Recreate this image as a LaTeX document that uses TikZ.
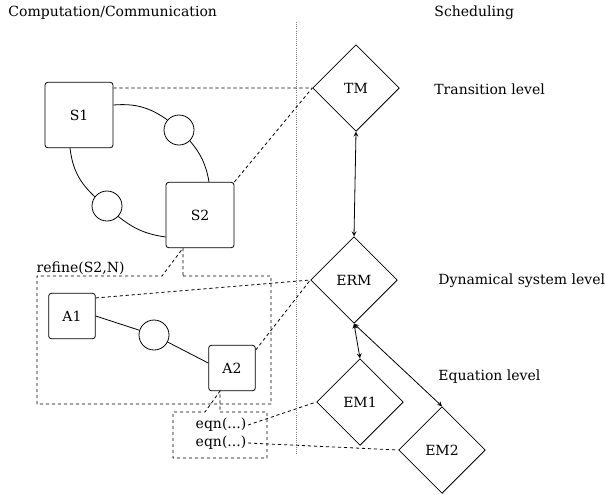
\documentclass[tikz,border=0pt]{standalone}
\usepackage{fontspec}
\setmainfont{DejaVu Serif}
\usetikzlibrary{shapes.geometric}

\begin{document}
\begin{tikzpicture}[x=0.75pt,y=-0.75pt,line width=0.6pt,>=stealth,
	font=\fontsize{10.5}{12.6}\selectfont,
	proc/.style={draw,rounded corners=2pt,minimum width=51pt,minimum height=49pt},
	act/.style={draw,rounded corners=2pt,minimum width=35pt,minimum height=34pt},
	chan/.style={draw,circle,minimum size=22.5pt,inner sep=0pt},
	sched/.style={draw,diamond,minimum width=65pt,minimum height=65pt,inner sep=0pt},
	link/.style={dash pattern=on 2.4pt off 2.1pt,line width=0.6pt},
	lbl/.style={anchor=west,inner sep=0pt}]

	\useasboundingbox (0,0) rectangle (605,494);

	\node[lbl] (comp) at (8,13) {Computation/Communication};
	\node[lbl] (schedt) at (434,13) {Scheduling};
	\coordinate (divtop) at (296,22);
	\coordinate (divbot) at (296,455);
	\draw[densely dotted,gray] (divtop) -- (divbot);

	\node[proc] (S1) at (79,115) {S1};
	\node[proc] (S2) at (200,215) {S2};
	\node[chan] (c1) at (179,130) {};
	\node[chan] (c2) at (107,206) {};

	\draw ([yshift=7.5pt]S1.east) to[bend left=20] (c1);
	\draw (c1) to[bend left=15] ([xshift=6.75pt]S2.north);
	\draw ([xshift=-6.75pt]S1.south) to[bend right=20] (c2);
	\draw (c2) to[bend right=15] ([yshift=-16.5pt]S2.west);

	\node[sched] (TM) at (356,88) {TM};
	\node[sched] (ERM) at (354,280) {ERM};
	\node[sched] (EM1) at (360,402) {EM1};
	\node[sched] (EM2) at (442,450) {EM2};

	\draw[<->] (TM.south) -- (ERM.north);
	\draw[<->] (ERM.south) -- (EM1.north);
	\draw[<->] (ERM.south) -- (EM2.north);

	\node[lbl] (trans) at (434,89) {Transition level};
	\node[lbl] (dyn) at (438,281) {Dynamical system level};
	\node[lbl] (eql) at (438,377) {Equation level};

	\draw[link] ([yshift=-4.5pt]S1.north east) -- (TM.west);
	\draw[link] (S2.north east) -- (TM.west);

	\node[anchor=south west,inner sep=1pt] (reft) at (35,276) {refine(S2,N)};
	\draw[link] (183,276) -- (271,276) -- (271,404) -- (37,404) -- (37,276) -- (162,276)
		-- ([xshift=-12.75pt]S2.south) -- cycle;

	\node[act] (A1) at (72,316) {A1};
	\node[act] (A2) at (232,368) {A2};
	\node[chan] (c3) at (154,335) {};

	\draw (A1.east) -- (c3);
	\draw (c3) -- ([yshift=3.75pt]A2.west);

	\draw[link] ([yshift=-3.75pt]A1.north east) -- (ERM.west);
	\draw[link] ([yshift=-3.75pt]A2.north east) -- (ERM.west);

	\node[inner sep=1pt] (eq1) at (221,425) {eqn(...)};
	\node[inner sep=1pt] (eq2) at (221,443) {eqn(...)};
	\draw[link] (220,412) -- (267,412) -- (267,458) -- (173,458) -- (173,412) -- (205,412)
		-- ([xshift=-9pt]A2.south) -- cycle;

	\draw[link] (eq1.east) -- (EM1.west);
	\draw[link] (eq2.east) -- (EM2.west);

\end{tikzpicture}
\end{document}
